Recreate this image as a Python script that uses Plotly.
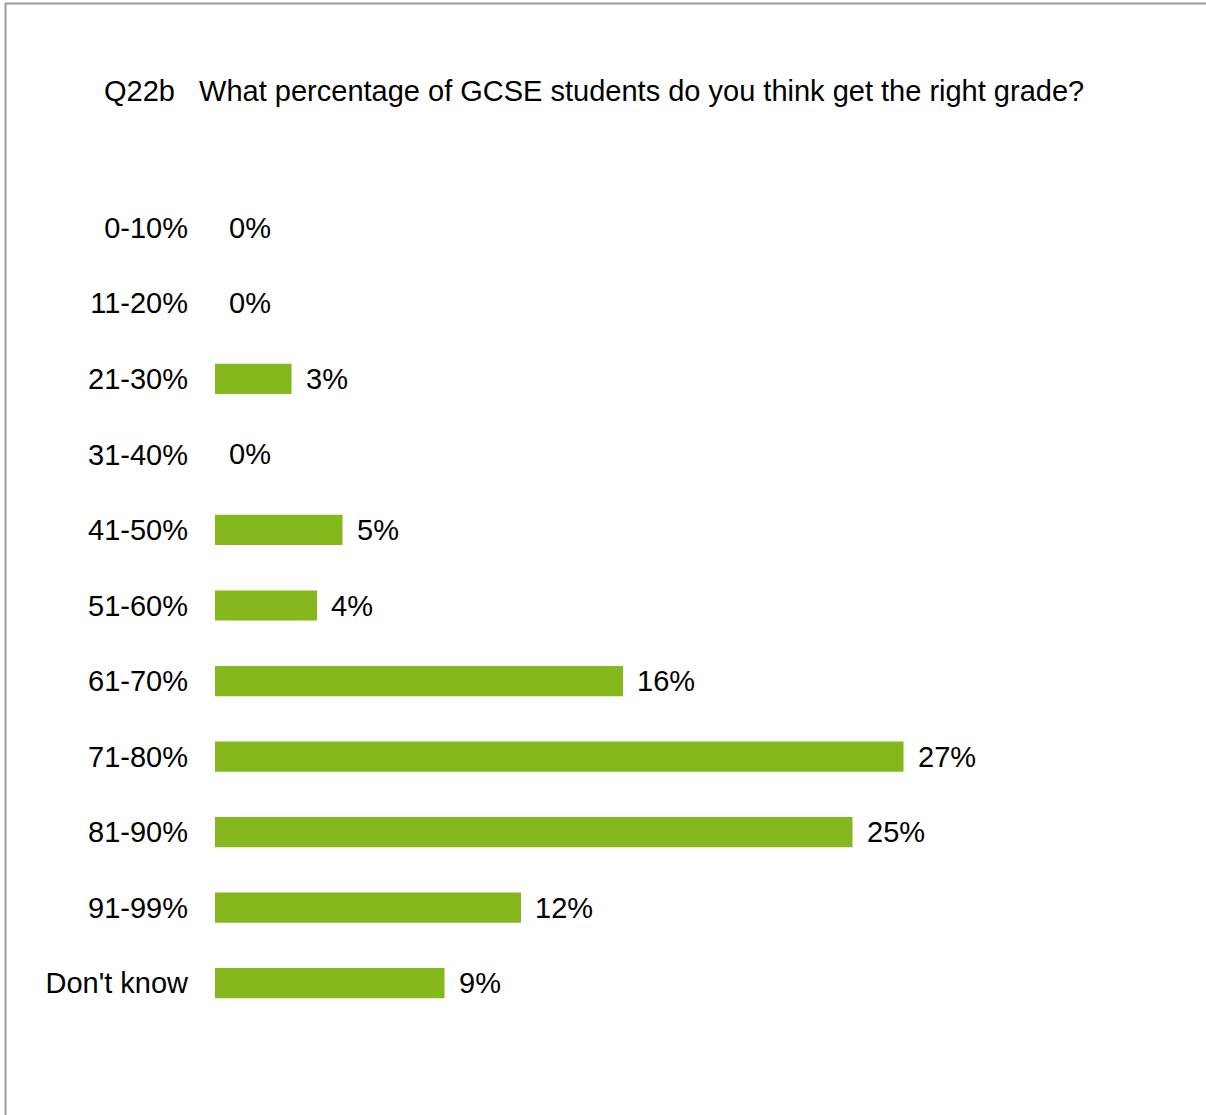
import plotly.graph_objects as go

# Survey answer bands and share of respondents (%)
categories = ["0-10%", "11-20%", "21-30%", "31-40%", "41-50%", "51-60%",
              "61-70%", "71-80%", "81-90%", "91-99%", "Don't know"]
shares = [0, 0, 3, 0, 5, 4, 16, 27, 25, 12, 9]
value_labels = [f"{v}%" for v in shares]

title_text = "Q22b\u00a0\u00a0\u00a0What percentage of GCSE students do you think get the right grade?"

W, H = 1206, 1115
ML, MR, MT, MB = 215, 226, 190, 94
PW, PH = W - ML - MR, H - MT - MB
FONT = "Liberation Sans, Arial, sans-serif"
FS = 29
GREEN = "#84B81C"

fig = go.Figure()
fig.add_trace(go.Bar(
    x=shares, y=categories, orientation="h",
    marker=dict(color=GREEN, line=dict(width=0)),
    hoverinfo="skip",
))

# Value labels just past the end of each bar
for cat, v, lab in zip(categories, shares, value_labels):
    fig.add_annotation(x=v, y=cat, xref="x", yref="y", text=lab,
                       showarrow=False, xanchor="left", yanchor="middle",
                       xshift=12, font=dict(family=FONT, size=FS, color="#000000"))

# Frame lines on the left and top edges
def px_x(p):
    return (p - ML) / PW

def px_y(p):
    return 1 - (p - MT) / PH

fig.add_shape(type="line", xref="paper", yref="paper",
              x0=px_x(5.5), x1=px_x(5.5), y0=px_y(3), y1=px_y(H + 5),
              line=dict(color="#9A9A9A", width=2))
fig.add_shape(type="line", xref="paper", yref="paper",
              x0=px_x(5), x1=px_x(W + 5), y0=px_y(3.5), y1=px_y(3.5),
              line=dict(color="#9A9A9A", width=2))

fig.update_layout(
    width=W, height=H,
    margin=dict(l=ML, r=MR, t=MT, b=MB),
    paper_bgcolor="white", plot_bgcolor="white",
    bargap=0.6,
    showlegend=False,
    font=dict(family=FONT, size=FS, color="#000000"),
    title=dict(text=title_text, xref="container", yref="container",
               x=104 / W, xanchor="left", y=1 - 91 / H, yanchor="middle",
               font=dict(family=FONT, size=FS, color="#000000")),
    xaxis=dict(range=[0, 30], visible=False, fixedrange=True),
    yaxis=dict(categoryorder="array", categoryarray=categories,
               autorange="reversed", showgrid=False, zeroline=False,
               showline=False, ticks="", ticklabelstandoff=26,
               tickfont=dict(family=FONT, size=FS, color="#000000"),
               fixedrange=True),
)

fig.write_html("out.html", config={"displayModeBar": False})
